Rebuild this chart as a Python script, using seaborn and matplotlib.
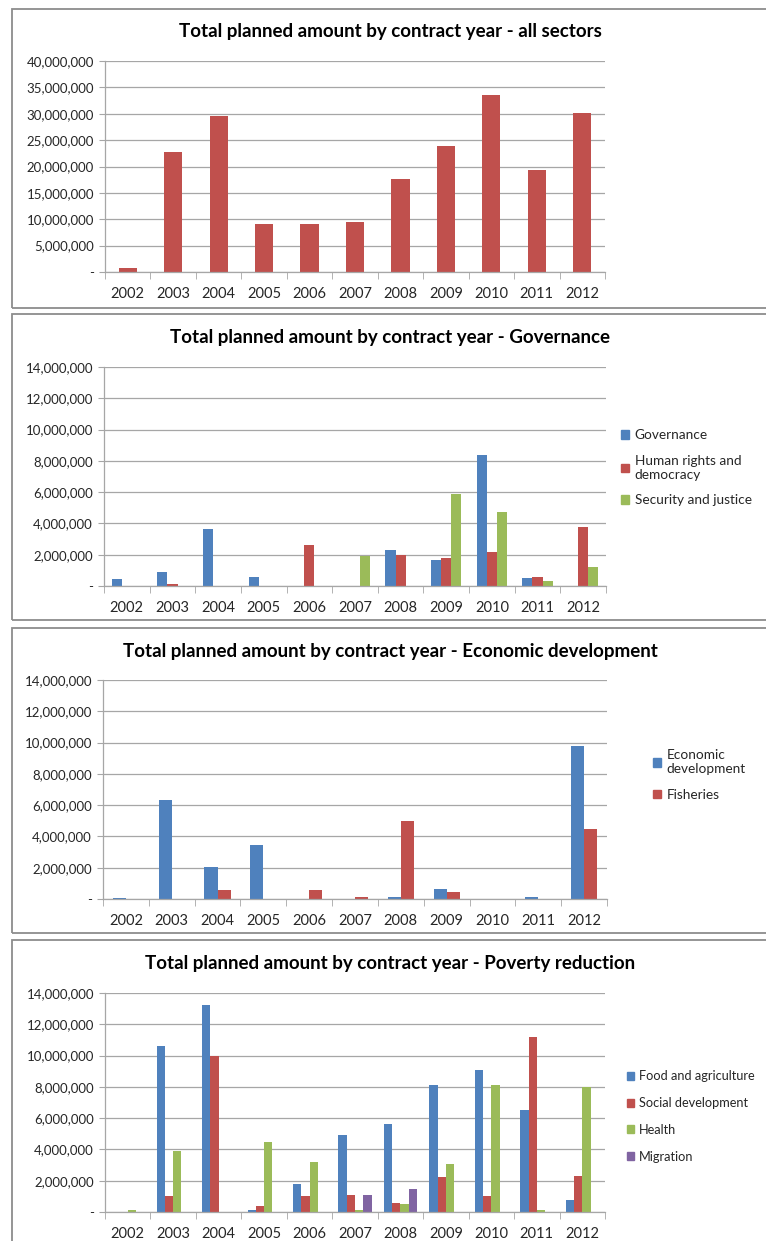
#----------- Module -----------#
import numpy as np
import pandas as pd
import matplotlib
matplotlib.use('Agg')
import matplotlib.pyplot as plt
import seaborn as sns
from matplotlib.ticker import FuncFormatter, FixedLocator
from matplotlib.patches import Rectangle

#----------- Daten -----------#
years = ['2002', '2003', '2004', '2005', '2006', '2007', '2008', '2009', '2010', '2011', '2012']

all_sectors = [0.7e6, 22.8e6, 29.5e6, 9.1e6, 9.1e6, 9.4e6, 17.6e6, 23.8e6, 33.5e6, 19.4e6, 30.2e6]

gov_governance = [0.45e6, 0.9e6, 3.65e6, 0.55e6, 0, 0, 2.3e6, 1.65e6, 8.4e6, 0.5e6, 0]
gov_human_rights = [0, 0.12e6, 0, 0, 2.6e6, 0, 2.0e6, 1.8e6, 2.15e6, 0.6e6, 3.75e6]
gov_security = [0, 0, 0, 0, 0, 1.9e6, 0, 5.9e6, 4.75e6, 0.3e6, 1.2e6]

eco_economic = [0.08e6, 6.3e6, 2.05e6, 3.45e6, 0, 0, 0.1e6, 0.65e6, 0, 0.15e6, 9.8e6]
eco_fisheries = [0, 0, 0.6e6, 0, 0.55e6, 0.15e6, 5.0e6, 0.42e6, 0, 0, 4.5e6]

pov_food = [0, 10.6e6, 13.25e6, 0.15e6, 1.8e6, 4.95e6, 5.65e6, 8.1e6, 9.05e6, 6.5e6, 0.75e6]
pov_social = [0, 1.05e6, 10.0e6, 0.4e6, 1.0e6, 1.1e6, 0.55e6, 2.25e6, 1.0e6, 11.2e6, 2.3e6]
pov_health = [0.12e6, 3.9e6, 0, 4.5e6, 3.2e6, 0.1e6, 0.5e6, 3.05e6, 8.15e6, 0.12e6, 8.0e6]
pov_migration = [0, 0, 0, 0, 0, 1.1e6, 1.45e6, 0, 0, 0, 0]

#Farben (Excel 2007)
blue = '#4F81BD'
red = '#C0504D'
green = '#9BBB59'
purple = '#8064A2'

#----------- Layout -----------#
sns.set_style('white')
plt.rcParams['font.family'] = ['Lato', 'DejaVu Sans']

W, H = 766, 1241
fig = plt.figure(figsize=(W / 100, H / 100), dpi=100)

def px_box(x0, y0, x1, y1):
    '''Pixel-Box (oben links / unten rechts) in Figure-Koordinaten'''
    return [x0 / W, 1 - y1 / H, (x1 - x0) / W, (y1 - y0) / H]

def frame(y0, y1):
    fig.patches.append(Rectangle((12 / W, 1 - y1 / H), (W + 10 - 12) / W, (y1 - y0) / H,
                                 transform=fig.transFigure, fill=False,
                                 edgecolor='#8C8C8C', linewidth=1.3, zorder=0))

def long_df(series):
    rows = []
    for name, vals in series:
        for y, v in zip(years, vals):
            rows.append({'year': y, 'amount': v, 'series': name})
    return pd.DataFrame(rows)

def style_axis(ax, ymax, step):
    ax.set_xlim(-0.5, len(years) - 0.5)
    ax.set_ylim(0, ymax)
    ax.set_yticks(np.arange(0, ymax + 1, step))
    ax.yaxis.set_major_formatter(FuncFormatter(lambda v, p: '-' if v == 0 else '{:,.0f}'.format(v)))
    ax.yaxis.grid(True, color='#A6A6A6', linewidth=0.9)
    ax.set_axisbelow(True)
    for s in ['top', 'right']:
        ax.spines[s].set_visible(False)
    for s in ['left', 'bottom']:
        ax.spines[s].set_color('#A6A6A6')
        ax.spines[s].set_linewidth(0.9)
    ax.xaxis.set_minor_locator(FixedLocator(np.arange(-0.5, len(years), 1.0)))
    ax.tick_params(axis='x', which='major', length=0, pad=11, labelsize=10.5, labelcolor='#262626')
    ax.tick_params(axis='x', which='minor', length=5, color='#A6A6A6', direction='out', bottom=True)
    ax.tick_params(axis='y', length=4, color='#A6A6A6', direction='out', left=True,
                   labelsize=9.5, labelcolor='#262626', pad=4)
    ax.set_xlabel('')
    ax.set_ylabel('')

def title(y, text):
    fig.text(390 / W, 1 - y / H, text, ha='center', va='center',
             fontsize=13.5, fontweight='bold', color='black')

#----------- Panel 1: alle Sektoren -----------#
frame(9, 308)
ax1 = fig.add_axes(px_box(105, 61, 605, 272))
df1 = pd.DataFrame({'year': years, 'amount': all_sectors})
sns.barplot(data=df1, x='year', y='amount', color=red, width=0.4, linewidth=0,
            saturation=1, ax=ax1)
style_axis(ax1, 40e6, 5e6)
title(32, 'Total planned amount by contract year - all sectors')

#----------- Panel 2: Governance -----------#
def grouped(ax, series, colors):
    df = long_df(series)
    n = len(series)
    sns.barplot(data=df, x='year', y='amount', hue='series', palette=colors,
                width=n / (n + 1.5), linewidth=0, saturation=1, ax=ax, legend=False)
    handles = [Rectangle((0, 0), 1, 1, color=c) for c in colors]
    return handles

frame(314, 620)
ax2 = fig.add_axes(px_box(104, 367, 606, 586))
labels2 = ['Governance', 'Human rights and\ndemocracy', 'Security and justice']
h2 = grouped(ax2, list(zip(labels2, [gov_governance, gov_human_rights, gov_security])), [blue, red, green])
style_axis(ax2, 14e6, 2e6)
fig.legend(h2, labels2, loc='upper left', bbox_to_anchor=(609 / W, 1 - 417 / H),
           frameon=False, fontsize=9.8, handlelength=0.6, handleheight=0.6,
           handletextpad=0.4, labelspacing=1.0, labelcolor='#262626')
title(338, 'Total planned amount by contract year - Governance')

#----------- Panel 3: Economic development -----------#
frame(628, 933)
ax3 = fig.add_axes(px_box(103, 680, 607, 899))
labels3 = ['Economic\ndevelopment', 'Fisheries']
h3 = grouped(ax3, list(zip(labels3, [eco_economic, eco_fisheries])), [blue, red])
style_axis(ax3, 14e6, 2e6)
fig.legend(h3, labels3, loc='upper left', bbox_to_anchor=(641 / W, 1 - 737 / H),
           frameon=False, fontsize=9.8, handlelength=0.6, handleheight=0.6,
           handletextpad=0.4, labelspacing=1.0, labelcolor='#262626')
title(651, 'Total planned amount by contract year - Economic development')

#----------- Panel 4: Poverty reduction -----------#
frame(940, 1250)
ax4 = fig.add_axes(px_box(105, 993, 605, 1212))
labels4 = ['Food and agriculture', 'Social development', 'Health', 'Migration']
h4 = grouped(ax4, list(zip(labels4, [pov_food, pov_social, pov_health, pov_migration])),
             [blue, red, green, purple])
style_axis(ax4, 14e6, 2e6)
fig.legend(h4, labels4, loc='upper left', bbox_to_anchor=(615 / W, 1 - 1059 / H),
           frameon=False, fontsize=9.2, handlelength=0.6, handleheight=0.6,
           handletextpad=0.4, labelspacing=1.15, labelcolor='#262626')
title(964, 'Total planned amount by contract year - Poverty reduction')

fig.savefig('out.png', dpi=100, facecolor='white')
